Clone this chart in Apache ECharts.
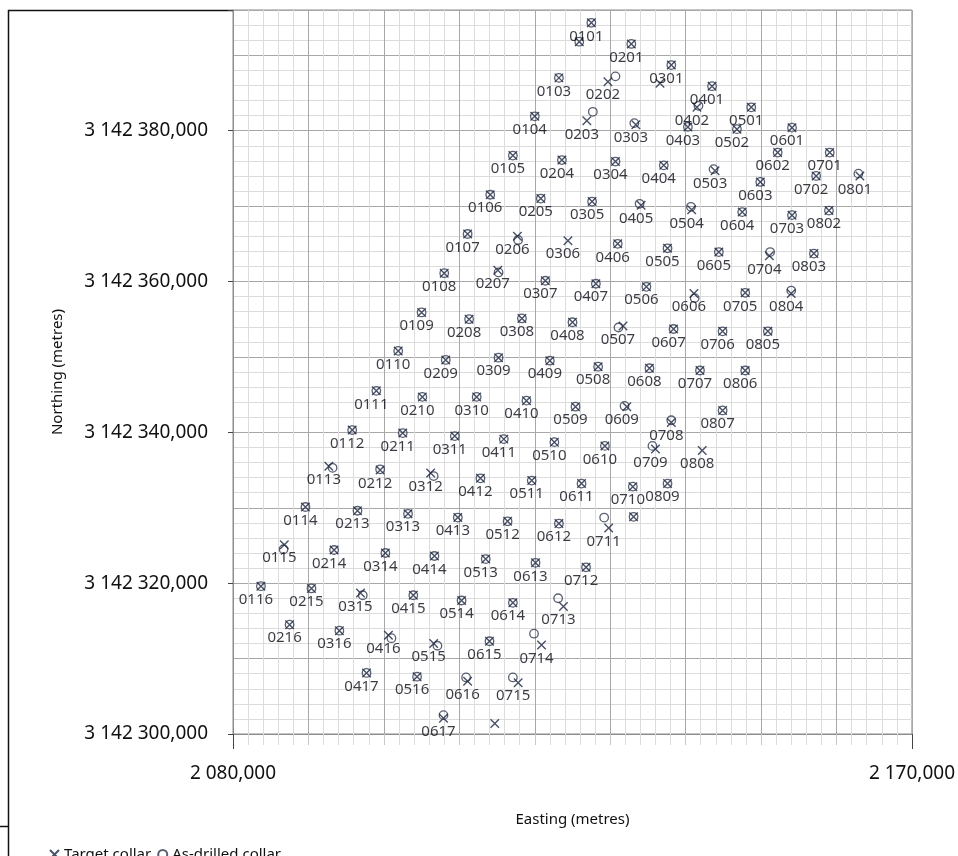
<!DOCTYPE html>
<html>
<head>
<meta charset="utf-8">
<script src="https://cdn.jsdelivr.net/npm/echarts@6/dist/echarts.min.js"></script>
<style>
html,body{margin:0;padding:0;background:#fff;}
#chart{width:958px;height:856px;}
</style>
</head>
<body>
<div id="chart"></div>
<script>
// Hole identifiers ('' = point drawn without a label)
const holeIds = ['0101','','0201','0103','0202','0301','','0401','0104','0203','0303','0402','0501','0403','0502','0601','0602','0701','0105','0204','0304','0404','0503','0603','0702','0801','0106','0205','0305','0405','0504','0604','0703','0802','0107','0206','0306','0406','0505','0605','0704','0803','0108','0207','0307','0407','0506','0606','0705','0804','0109','0208','0308','0408','0507','0607','0706','0805','0110','0209','0309','0409','0508','0608','0707','0806','0111','0210','0310','0410','0509','0609','0708','0807','0112','0211','0311','0411','0510','0610','0709','0808','0113','0212','0312','0412','0511','0611','0710','0809','0114','0213','0313','0413','0512','0612','0711','','0115','0214','0314','0414','0513','0613','0712','0116','0215','0315','0415','0514','0614','0713','0216','0316','0416','0515','0615','0714','0417','0516','0616','0715','0617',''];

// Target collar easting / northing (metres)
const targetE = [2127.5,2125.9,2132.8,2123.2,2129.7,2138.1,2136.6,2143.5,2120.0,2126.9,2133.4,2141.5,2148.7,2140.3,2146.8,2154.1,2152.2,2159.1,2117.1,2123.6,2130.7,2137.1,2143.9,2149.9,2157.3,2163.1,2114.1,2120.8,2127.6,2134.1,2140.8,2147.5,2154.1,2159.0,2111.1,2117.7,2124.4,2131.0,2137.6,2144.4,2151.1,2157.0,2108.0,2115.1,2121.4,2128.1,2134.8,2141.1,2147.9,2154.0,2105.0,2111.3,2118.3,2125.0,2131.7,2138.4,2144.9,2150.9,2101.9,2108.2,2115.2,2122.0,2128.4,2135.2,2141.9,2147.9,2099.0,2105.1,2112.3,2118.9,2125.4,2132.2,2138.1,2144.9,2095.8,2102.5,2109.4,2115.9,2122.6,2129.3,2136.0,2142.2,2092.7,2099.5,2106.2,2112.8,2119.6,2126.2,2133.0,2137.6,2089.6,2096.5,2103.2,2109.8,2116.4,2123.2,2129.8,2133.1,2086.8,2093.4,2100.2,2106.7,2113.5,2120.1,2126.8,2083.7,2090.4,2096.9,2103.9,2110.3,2117.1,2123.8,2087.5,2094.1,2100.6,2106.6,2114.0,2120.9,2097.7,2104.4,2111.1,2117.8,2107.9,2114.7];
const targetN = [3142394.3,3142391.8,3142391.5,3142387.0,3142386.5,3142388.7,3142386.3,3142385.9,3142381.9,3142381.3,3142380.8,3142383.1,3142383.1,3142380.5,3142380.2,3142380.4,3142377.1,3142377.1,3142376.7,3142376.1,3142375.9,3142375.4,3142374.7,3142373.2,3142374.0,3142374.0,3142371.5,3142371.0,3142370.6,3142370.1,3142369.5,3142369.2,3142368.8,3142369.4,3142366.3,3142366.0,3142365.4,3142365.0,3142364.4,3142363.9,3142363.4,3142363.7,3142361.1,3142361.5,3142360.1,3142359.7,3142359.3,3142358.4,3142358.5,3142358.4,3142355.9,3142355.0,3142355.1,3142354.6,3142354.1,3142353.7,3142353.4,3142353.4,3142350.8,3142349.6,3142349.9,3142349.5,3142348.7,3142348.5,3142348.2,3142348.2,3142345.5,3142344.7,3142344.7,3142344.2,3142343.4,3142343.4,3142341.3,3142342.9,3142340.3,3142339.9,3142339.5,3142339.1,3142338.7,3142338.2,3142337.8,3142337.6,3142335.5,3142335.0,3142334.6,3142333.9,3142333.6,3142333.2,3142332.8,3142333.2,3142330.1,3142329.6,3142329.2,3142328.7,3142328.2,3142327.9,3142327.3,3142328.8,3142325.1,3142324.4,3142324.0,3142323.6,3142323.2,3142322.7,3142322.1,3142319.6,3142319.3,3142318.7,3142318.4,3142317.7,3142317.4,3142316.9,3142314.5,3142313.7,3142313.1,3142312.0,3142312.3,3142311.8,3142308.1,3142307.6,3142307.0,3142306.8,3142302.1,3142301.4];

// As-drilled collar easting / northing (metres); null = not drilled
const drilledE = [2127.5,2125.9,2132.8,2123.2,2130.7,2138.1,null,2143.5,2120.0,2127.7,2133.2,2141.7,2148.7,2140.3,2146.8,2154.1,2152.2,2159.1,2117.1,2123.6,2130.7,2137.1,2143.7,2149.9,2157.3,2162.9,2114.1,2120.8,2127.6,2133.9,2140.7,2147.5,2154.1,2159.0,2111.1,2117.8,null,2131.0,2137.6,2144.4,2151.2,2157.0,2108.0,2115.2,2121.4,2128.1,2134.8,2141.2,2147.9,2154.0,2105.0,2111.3,2118.3,2125.0,2131.1,2138.4,2144.9,2150.9,2101.9,2108.2,2115.2,2122.0,2128.4,2135.2,2141.9,2147.9,2099.0,2105.1,2112.3,2118.9,2125.4,2131.9,2138.1,2144.9,2095.8,2102.5,2109.4,2115.9,2122.6,2129.3,2135.6,null,2093.2,2099.5,2106.6,2112.8,2119.6,2126.2,2133.0,2137.6,2089.6,2096.5,2103.2,2109.8,2116.4,2123.2,2129.2,2133.1,2086.7,2093.4,2100.2,2106.7,2113.5,2120.1,2126.8,2083.7,2090.4,2097.2,2103.9,2110.3,2117.1,2123.1,2087.5,2094.1,2101.0,2107.1,2114.0,2119.9,2097.7,2104.4,2110.9,2117.1,2107.9,null];
const drilledN = [3142394.3,3142391.8,3142391.5,3142387.0,3142387.2,3142388.7,null,3142385.9,3142381.9,3142382.5,3142381.0,3142383.3,3142383.1,3142380.5,3142380.2,3142380.4,3142377.1,3142377.1,3142376.7,3142376.1,3142375.9,3142375.4,3142374.9,3142373.2,3142374.0,3142374.3,3142371.5,3142371.0,3142370.6,3142370.3,3142369.9,3142369.2,3142368.8,3142369.4,3142366.3,3142365.5,null,3142365.0,3142364.4,3142363.9,3142363.9,3142363.7,3142361.1,3142361.2,3142360.1,3142359.7,3142359.3,3142357.8,3142358.5,3142358.8,3142355.9,3142355.0,3142355.1,3142354.6,3142353.9,3142353.7,3142353.4,3142353.4,3142350.8,3142349.6,3142349.9,3142349.5,3142348.7,3142348.5,3142348.2,3142348.2,3142345.5,3142344.7,3142344.7,3142344.2,3142343.4,3142343.5,3142341.6,3142342.9,3142340.3,3142339.9,3142339.5,3142339.1,3142338.7,3142338.2,3142338.2,null,3142335.3,3142335.1,3142334.2,3142333.9,3142333.6,3142333.2,3142332.8,3142333.2,3142330.1,3142329.6,3142329.2,3142328.7,3142328.2,3142327.9,3142328.7,3142328.8,3142324.5,3142324.4,3142324.0,3142323.6,3142323.2,3142322.7,3142322.1,3142319.6,3142319.3,3142318.4,3142318.4,3142317.7,3142317.4,3142318.0,3142314.5,3142313.7,3142312.7,3142311.7,3142312.3,3142313.3,3142308.1,3142307.6,3142307.5,3142307.5,3142302.5,null];

// Axis ranges and labelled ticks
const eastingRange = [2080, 2170];
const northingRange = [3142300, 3142396];
const eastingLabelStep = 90;
const northingLabelStep = 20;

function fmt(v){
  const s = Number(v).toFixed(3);
  const parts = s.split('.');
  return parts[0].replace(/\B(?=(\d{3})+(?!\d))/g, ' ') + ',' + parts[1];
}

const targetData = [];
const drilledData = [];
for (let i = 0; i < holeIds.length; i++) {
  targetData.push({ name: holeIds[i], value: [targetE[i], targetN[i]] });
  if (drilledE[i] != null) drilledData.push({ name: holeIds[i], value: [drilledE[i], drilledN[i]] });
}

const FONT = 'Noto Sans';
const markColor = '#1b2540';
const circleColor = '#2f384d';
const minorGrid = '#dcdcdc';
const majorGrid = '#a8a8a8';

const chart = echarts.init(document.getElementById('chart'), null, { renderer: 'canvas' });

function xAxisBase(extra){
  return Object.assign({
    type: 'value', min: eastingRange[0], max: eastingRange[1], position: 'bottom',
    axisLine: { show: false, onZero: false },
    axisLabel: { show: false }, axisTick: { show: false }, splitLine: { show: false }
  }, extra);
}
function yAxisBase(extra){
  return Object.assign({
    type: 'value', min: northingRange[0], max: northingRange[1], position: 'left',
    axisLine: { show: false, onZero: false },
    axisLabel: { show: false }, axisTick: { show: false }, splitLine: { show: false }
  }, extra);
}

chart.setOption({
  animation: false,
  backgroundColor: '#ffffff',
  textStyle: { fontFamily: FONT },
  grid: { left: 233, right: 45, top: 10, bottom: 122, show: true, borderColor: '#8c8c8c', borderWidth: 1, backgroundColor: 'transparent' },
  xAxis: [
    xAxisBase({ interval: 2, splitLine: { show: true, lineStyle: { color: minorGrid, width: 1 } },
      axisTick: { show: true, length: 11, inside: false, lineStyle: { color: minorGrid } } }),
    xAxisBase({ interval: 10, splitLine: { show: true, lineStyle: { color: majorGrid, width: 1 } },
      axisTick: { show: true, length: 11, lineStyle: { color: '#c8c8c8' } } }),
    xAxisBase({ interval: eastingLabelStep,
      axisLine: { show: true, onZero: false, lineStyle: { color: '#8c8c8c' } },
      axisTick: { show: true, length: 15, lineStyle: { color: '#444' } },
      axisLabel: { show: true, margin: 30, fontSize: 19, color: '#111', fontFamily: FONT, formatter: fmt },
      name: 'Easting (metres)', nameLocation: 'middle', nameGap: 78,
      nameTextStyle: { fontSize: 15, color: '#111', fontFamily: FONT } })
  ],
  yAxis: [
    yAxisBase({ interval: 2, splitLine: { show: true, lineStyle: { color: minorGrid, width: 1 } } }),
    yAxisBase({ interval: 10, splitLine: { show: true, lineStyle: { color: majorGrid, width: 1 } } }),
    yAxisBase({ interval: northingLabelStep,
      axisLine: { show: true, onZero: false, lineStyle: { color: '#8c8c8c' } },
      axisTick: { show: true, length: 5, lineStyle: { color: '#444' } },
      axisLabel: { show: true, margin: 25, fontSize: 19, color: '#111', fontFamily: FONT,
        formatter: function(v){ return (Math.round(v - northingRange[0]) % northingLabelStep === 0) ? fmt(v) : ''; } },
      name: 'Northing (metres)', nameLocation: 'middle', nameGap: 168,
      nameTextStyle: { fontSize: 15, color: '#111', fontFamily: FONT } })
  ],
  legend: {
    left: 44, top: 842, itemGap: 6, itemWidth: 9, itemHeight: 9,
    textStyle: { fontSize: 15, color: '#111', fontFamily: FONT },
    data: ['Target collar', 'As-drilled collar']
  },
  series: [
    {
      name: 'As-drilled collar', type: 'scatter', xAxisIndex: 0, yAxisIndex: 0,
      symbol: 'circle', symbolSize: 8.5,
      itemStyle: { color: 'rgba(255,255,255,0)', borderColor: circleColor, borderWidth: 1.3 },
      data: drilledData, z: 3
    },
    {
      name: 'Target collar', type: 'scatter', xAxisIndex: 0, yAxisIndex: 0,
      symbol: 'path://M0,0L10,10M10,0L0,10', symbolSize: 8.5,
      itemStyle: { color: 'rgba(255,255,255,0)', borderColor: markColor, borderWidth: 1.4 },
      label: { show: true, position: 'bottom', distance: 0,
        fontSize: 15, color: '#0a0a14', fontFamily: FONT,
        formatter: function(p){ return p.name; } },
      labelLayout: { hideOverlap: false, dx: -5, dy: 1 },
      data: targetData, z: 4
    }
  ],
  graphic: [
    { type: 'polyline', shape: { points: [[8.5, 856], [8.5, 10.5], [233, 10.5]] }, style: { stroke: '#111', lineWidth: 1.5, fill: null }, silent: true },
    { type: 'line', shape: { x1: 0, y1: 826.5, x2: 8, y2: 826.5 }, style: { stroke: '#111', lineWidth: 1.5 }, silent: true }
  ]
});
</script>
</body>
</html>
